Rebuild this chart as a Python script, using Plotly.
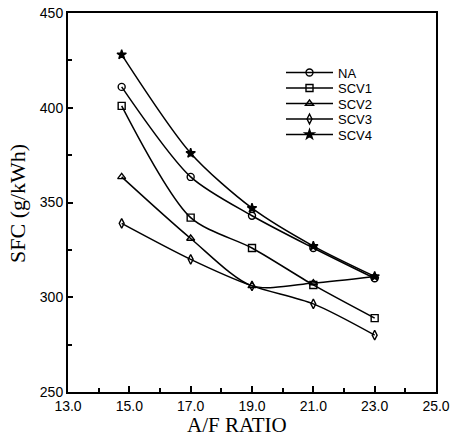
import plotly.graph_objects as go

af_ratio = [14.75, 17.0, 19.0, 21.0, 23.0]
sfc_na = [411, 363.5, 343, 326, 310]
sfc_scv1 = [401, 342, 326, 306.5, 289]
sfc_scv2 = [363.5, 331, 306, 307.5, 311]
sfc_scv3 = [339, 320, 306, 296.5, 280]
sfc_scv4 = [428, 376, 347, 327, 311]

series = [
    ("NA", sfc_na, "circle-open"),
    ("SCV1", sfc_scv1, "square-open"),
    ("SCV2", sfc_scv2, "triangle-up-open"),
    ("SCV3", sfc_scv3, "diamond-tall-open"),
    ("SCV4", sfc_scv4, "star"),
]

PL, PR, PT, PB = 68, 436, 13, 392
W, H = 451, 436
pw, ph = PR - PL, PB - PT

def px(xp):
    return (xp - PL) / pw

def py(yp):
    return (PB - yp) / ph

fig = go.Figure()
legend_layouts = {}
for i, (name, vals, sym) in enumerate(series):
    lg = "legend" if i == 0 else f"legend{i + 1}"
    fig.add_trace(go.Scatter(
        x=af_ratio, y=vals, name=name, mode="lines+markers", legend=lg,
        line=dict(color="black", width=1.5, shape="spline", smoothing=0.8),
        marker=dict(symbol=sym, size=7, color="black", line=dict(color="black", width=1.4)),
    ))
    legend_layouts[lg] = dict(
        x=px(281), y=py(72.5 + 15.5 * i), xanchor="left", yanchor="middle",
        bgcolor="rgba(0,0,0,0)", itemwidth=47,
        font=dict(family="Liberation Sans", size=13, color="black"))

fig.update_layout(
    width=W, height=H,
    margin=dict(l=PL, r=W - PR, t=PT, b=H - PB, autoexpand=False),
    paper_bgcolor="white", plot_bgcolor="white",
    font=dict(family="Liberation Sans", color="black", size=13),
    showlegend=True,
    xaxis=dict(range=[13, 25], tick0=13, dtick=2, tickformat=".1f", automargin=False,
               showline=True, linecolor="black", linewidth=2, mirror=True,
               ticks="inside", ticklen=6, tickwidth=1.5, tickcolor="black",
               minor=dict(dtick=1, ticks="inside", ticklen=4, tickwidth=1.5, tickcolor="black"),
               showgrid=False, zeroline=False,
               tickfont=dict(family="Liberation Sans", size=14, color="black")),
    yaxis=dict(range=[250, 450], tick0=250, dtick=50, automargin=False,
               showline=True, linecolor="black", linewidth=2, mirror=True,
               ticks="inside", ticklen=5, tickwidth=1.5, tickcolor="black",
               minor=dict(dtick=25, ticks="inside", ticklen=4, tickwidth=1.5, tickcolor="black"),
               showgrid=False, zeroline=False,
               tickfont=dict(family="Liberation Sans", size=14, color="black")),
    annotations=[
        dict(text="A/F RATIO", x=px(237), y=py(425), xref="paper", yref="paper",
             xanchor="center", yanchor="middle", showarrow=False,
             font=dict(family="Liberation Serif", size=21, color="black")),
        dict(text="SFC (g/kWh)", x=px(17), y=py(204), xref="paper", yref="paper",
             xanchor="center", yanchor="middle", showarrow=False, textangle=-90,
             font=dict(family="Liberation Serif", size=22, color="black")),
    ],
)
fig.update_layout(**legend_layouts)
fig.write_html("out.html", config={"displayModeBar": False},
               post_script="document.body.style.margin='0px';document.body.style.overflow='hidden';")
